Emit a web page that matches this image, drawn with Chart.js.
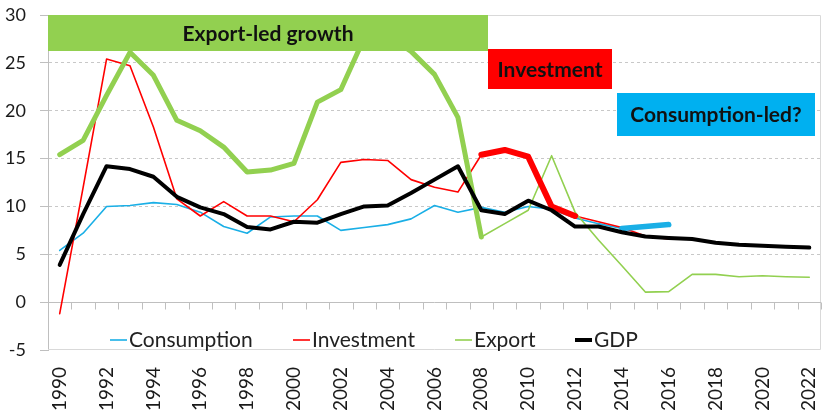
<!DOCTYPE html>
<html>
<head>
<meta charset="utf-8">
<script src="https://cdn.jsdelivr.net/npm/chart.js@4.4.0/dist/chart.umd.min.js"></script>
<style>
    html, body { margin: 0; padding: 0; background: #fff; }
    #wrap { width: 834px; height: 416px; }
</style>
</head>
<body>
<div id="wrap"><canvas id="myChart" width="834" height="416"></canvas></div>
<script>
const years = ['1990', '1991', '1992', '1993', '1994', '1995', '1996', '1997', '1998', '1999',
    '2000', '2001', '2002', '2003', '2004', '2005', '2006', '2007', '2008', '2009',
    '2010', '2011', '2012', '2013', '2014', '2015', '2016', '2017', '2018', '2019',
    '2020', '2021', '2022'];
// growth rates, %
const consumption = [5.4, 7.2, 10.0, 10.1, 10.4, 10.2, 9.4, 7.9, 7.2, 8.9, 9.0, 9.0, 7.5, 7.8, 8.1, 8.7,
    10.1, 9.4, 9.9, 9.4, 10.0, 9.7, 8.8, 8.2, 7.7, 7.9, 8.1, null, null, null, null, null, null];
const investment = [-1.2, 12.0, 25.4, 24.7, 18.3, 10.8, 9.0, 10.5, 9.0, 9.0, 8.4, 10.7, 14.6, 14.9, 14.8, 12.8,
    12.0, 11.5, 15.4, 15.9, 15.2, 10.0, 9.0, 8.4, 7.8, 6.9, 6.6, null, null, null, null, null, null];
const exports_ = [15.4, 16.9, 21.6, 26.1, 23.7, 19.0, 17.9, 16.2, 13.6, 13.8, 14.5, 20.9, 22.2, 27.6, 27.9, 26.2,
    23.8, 19.3, 6.8, 8.2, 9.6, 15.3, 9.4, 6.5, 3.8, 1.05, 1.1, 2.9, 2.9, 2.65, 2.75, 2.65, 2.6];
const gdp = [3.9, 9.2, 14.2, 13.9, 13.1, 11.0, 9.9, 9.2, 7.85, 7.6, 8.4, 8.3, 9.2, 10.0, 10.1, 11.4,
    12.8, 14.2, 9.6, 9.2, 10.6, 9.6, 7.9, 7.9, 7.3, 6.85, 6.7, 6.6, 6.2, 6.0, 5.9, 5.8, 5.7];
// years where each engine is highlighted
const exportLed = ['1990', '2008'];
const investLed = ['2008', '2012'];
const consumptionLed = ['2014', '2016'];

const yTicks = { min: -5, max: 30, step: 5 };

const colConsumption = '#1AAFE6';
const colInvestment = '#FF0000';
const colExport = '#92D050';
const colGdp = '#000000';

function highlight(values, range) {
    return values.map((v, i) => (years[i] >= range[0] && years[i] <= range[1] ? v : null));
}

function lineSet(label, data, color, width, order) {
    return {
        label: label,
        data: data,
        borderColor: color,
        backgroundColor: color,
        borderWidth: width,
        pointRadius: 0,
        fill: false,
        tension: 0,
        spanGaps: false,
        borderCapStyle: 'round',
        borderJoinStyle: 'round',
        order: order,
    };
}

const banners = [
    { text: 'Export-led growth', color: colExport, x1: 48, x2: 488, y1: 15, y2: 51 },
    { text: 'Investment', color: colInvestment, x1: 488, x2: 612, y1: 49, y2: 89 },
    { text: 'Consumption-led?', color: '#00B0F0', x1: 617, x2: 815, y1: 93, y2: 136 },
];
const legendItems = [
    { text: 'Consumption', color: colConsumption, width: 1.6, x: 110 },
    { text: 'Investment', color: colInvestment, width: 1.6, x: 293 },
    { text: 'Export', color: colExport, width: 1.6, x: 455 },
    { text: 'GDP', color: colGdp, width: 4, x: 575 },
];

const decor = {
    id: 'decor',
    beforeDatasetsDraw(chart) {
        const { ctx, chartArea: a, scales } = chart;
        const x = scales.x, y = scales.y;
        ctx.save();
        ctx.lineWidth = 1;
        // plot area frame
        ctx.strokeStyle = '#d9d9d9';
        ctx.beginPath();
        ctx.moveTo(a.left, a.top + 0.5);
        ctx.lineTo(a.right - 0.5, a.top + 0.5);
        ctx.lineTo(a.right - 0.5, a.bottom - 0.5);
        ctx.lineTo(a.left, a.bottom - 0.5);
        ctx.stroke();
        // category axis sits on zero
        const y0 = Math.round(y.getPixelForValue(0)) + 0.5;
        ctx.strokeStyle = '#bfbfbf';
        ctx.beginPath();
        ctx.moveTo(a.left, y0);
        ctx.lineTo(a.right, y0);
        const step = x.getPixelForValue(1) - x.getPixelForValue(0);
        for (let i = 0; i <= years.length; i++) {
            const xb = Math.round(x.getPixelForValue(0) - step / 2 + i * step) + 0.5;
            ctx.moveTo(xb, y0);
            ctx.lineTo(xb, y0 + 7);
        }
        ctx.stroke();
        ctx.restore();
    },
    afterDatasetsDraw(chart) {
        const ctx = chart.ctx;
        ctx.save();
        ctx.textAlign = 'center';
        ctx.textBaseline = 'middle';
        ctx.font = 'bold 21px Lato';
        banners.forEach((b) => {
            ctx.fillStyle = b.color;
            ctx.fillRect(b.x1, b.y1, b.x2 - b.x1, b.y2 - b.y1);
            ctx.fillStyle = '#111';
            ctx.fillText(b.text, (b.x1 + b.x2) / 2, (b.y1 + b.y2) / 2 + 1);
        });
        // legend inside the plot, under the zero line
        ctx.font = '21px Lato';
        ctx.textAlign = 'left';
        const ly = 340;
        legendItems.forEach((it) => {
            ctx.strokeStyle = it.color;
            ctx.lineWidth = it.width;
            ctx.beginPath();
            ctx.moveTo(it.x, ly);
            ctx.lineTo(it.x + 17, ly);
            ctx.stroke();
            ctx.fillStyle = '#222';
            ctx.fillText(it.text, it.x + 19, ly);
        });
        ctx.restore();
    },
};

function draw_chart() {
    Chart.defaults.font.family = 'Lato';
    Chart.defaults.font.size = 18;
    Chart.defaults.color = '#1a1a1a';
    var ctx = document.getElementById('myChart');
    var chart = new Chart(ctx, {
        type: 'line',
        data: {
            labels: years,
            datasets: [
                lineSet('GDP', gdp, colGdp, 4, 0),
                lineSet('Consumption-led', highlight(consumption, consumptionLed), colConsumption, 5.5, 1),
                lineSet('Investment-led', highlight(investment, investLed), colInvestment, 6, 2),
                lineSet('Export-led', highlight(exports_, exportLed), colExport, 5, 3),
                lineSet('Export', exports_, colExport, 1.6, 4),
                lineSet('Investment', investment, colInvestment, 1.6, 5),
                lineSet('Consumption', consumption, colConsumption, 1.6, 6),
            ],
        },
        options: {
            responsive: false,
            animation: false,
            devicePixelRatio: 1,
            layout: { padding: { top: 15, right: 13, left: 0, bottom: 0 } },
            scales: {
                x: {
                    offset: true,
                    grid: { display: false, drawTicks: false },
                    border: { display: false },
                    afterFit: (s) => {
                        s.height = 66;
                        s.paddingLeft = 0;
                        s.paddingRight = 0;
                    },
                    ticks: {
                        autoSkip: false,
                        minRotation: 90,
                        maxRotation: 90,
                        padding: 17,
                        font: { size: 19 },
                        callback: function (val, i) { return i % 2 === 0 ? years[i] : ''; },
                    },
                },
                y: {
                    min: yTicks.min,
                    max: yTicks.max,
                    afterFit: (s) => {
                        s.width = 48;
                        s.paddingTop = 0;
                        s.paddingBottom = 0;
                    },
                    grid: {
                        color: (c) => (c.tick && (c.tick.value === 0 || c.tick.value === yTicks.max || c.tick.value === yTicks.min) ? 'rgba(0,0,0,0)' : '#c8c8c8'),
                        tickColor: '#bfbfbf',
                        tickLength: 8,
                        drawTicks: true,
                    },
                    border: { display: true, color: '#bfbfbf', dash: [3, 3] },
                    ticks: { stepSize: yTicks.step, padding: 14 },
                },
            },
            plugins: {
                legend: { display: false },
                tooltip: { enabled: false },
                title: { display: false },
            },
        },
        plugins: [decor],
    });
}
draw_chart();
</script>
</body>
</html>
